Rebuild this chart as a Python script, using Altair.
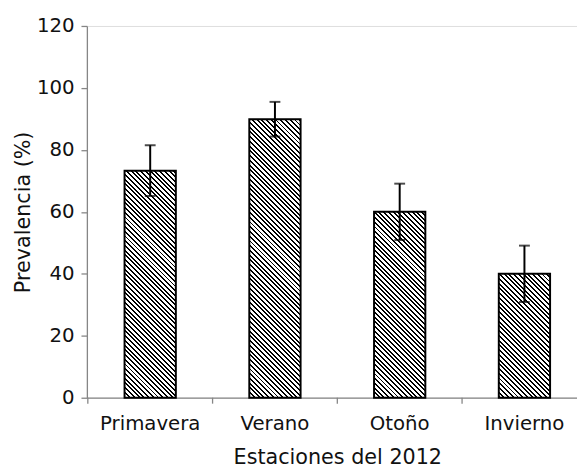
import math
import altair as alt
import pandas as pd

seasons = ["Primavera", "Verano", "Otoño", "Invierno"]
prevalence = [73.3, 89.9, 60.0, 40.0]
error = [8.2, 5.6, 9.1, 9.1]
y_ticks = [0, 20, 40, 60, 80, 100, 120]

df = pd.DataFrame({"season": seasons, "prev": prevalence, "err": error})
df["lo"] = df["prev"] - df["err"]
df["hi"] = df["prev"] + df["err"]

H = 377
W = 497
STEP = 126.5
P_IN = 0.589
P_OUT = 0.302
RANGE = STEP * (4 - P_IN + 2 * P_OUT)
BW = STEP * (1 - P_IN)
FONT = "DejaVu Sans"
GRAY = "#868686"


def hatch(value):
    h = value * H / 120.0
    w = BW
    dmax = (w + h) / math.sqrt(2)
    t = (w + h) / (w * w + h * h)
    period = 3.4
    dark = 1.4
    stops = []
    k = 0
    while k * period < dmax:
        a = k * period / dmax
        b = min((k * period + dark) / dmax, 1.0)
        c = min((k + 1) * period / dmax, 1.0)
        stops += [
            {"offset": a, "color": "#000000"},
            {"offset": b, "color": "#000000"},
            {"offset": b, "color": "#ffffff"},
            {"offset": c, "color": "#ffffff"},
        ]
        k += 1
    return {
        "gradient": "linear",
        "x1": 0, "y1": 1,
        "x2": t * w, "y2": 1 - t * h,
        "stops": stops,
    }


xscale = alt.Scale(domain=seasons, range=[0, RANGE], paddingInner=P_IN, paddingOuter=P_OUT)
yscale = alt.Scale(domain=[0, 120], nice=False)

xenc = alt.X("season:N", scale=xscale, sort=seasons,
             axis=alt.Axis(title="Estaciones del 2012", labelAngle=0, ticks=False, tickSize=0,
                           labelPadding=16, titlePadding=14, domainColor=GRAY, domainWidth=1.3,
                           labelFontSize=20, titleFontSize=21, labelFont=FONT, titleFont=FONT,
                           labelColor="#111", titleColor="#111", titleFontWeight="normal"))
yenc = alt.Y("prev:Q", scale=yscale,
             axis=alt.Axis(title="Prevalencia (%)", values=y_ticks, grid=False, tickSize=6,
                           tickColor=GRAY, domainColor=GRAY, domainWidth=1.3, tickWidth=1.3,
                           labelPadding=7, titlePadding=3, labelFontSize=20, titleFontSize=21,
                           labelFont=FONT, titleFont=FONT, labelColor="#111", titleColor="#111",
                           titleFontWeight="normal"))

base = alt.Chart(df)

bars = [
    base.transform_filter(alt.datum.season == s)
    .mark_bar(fill=hatch(v), stroke="black", strokeWidth=2)
    .encode(x=xenc, y=yenc)
    for s, v in zip(seasons, prevalence)
]

xband = alt.X("season:N", scale=xscale, sort=seasons)
err_rule = base.mark_rule(color="black", strokeWidth=2).encode(x=xband, y="lo:Q", y2="hi:Q")
cap_lo = base.mark_tick(color="black", size=11, thickness=2).encode(x=xband, y="lo:Q")
cap_hi = base.mark_tick(color="black", size=11, thickness=2).encode(x=xband, y="hi:Q")

xticks = base.mark_rule(color=GRAY, strokeWidth=1.3, xOffset=-P_IN * STEP / 2).encode(
    x=alt.X("season:N", scale=xscale, sort=seasons, bandPosition=0),
    y=alt.value(H), y2=alt.value(H + 6))

chart = alt.layer(*bars, err_rule, cap_lo, cap_hi, xticks).properties(
    width=W, height=H,
    padding={"left": 80, "top": 15, "right": 0, "bottom": 66},
    autosize=alt.AutoSizeParams(type="none"),
).configure_view(stroke=None).configure(background="white")

chart.save("out.html", embed_options={"renderer": "svg", "actions": False})
